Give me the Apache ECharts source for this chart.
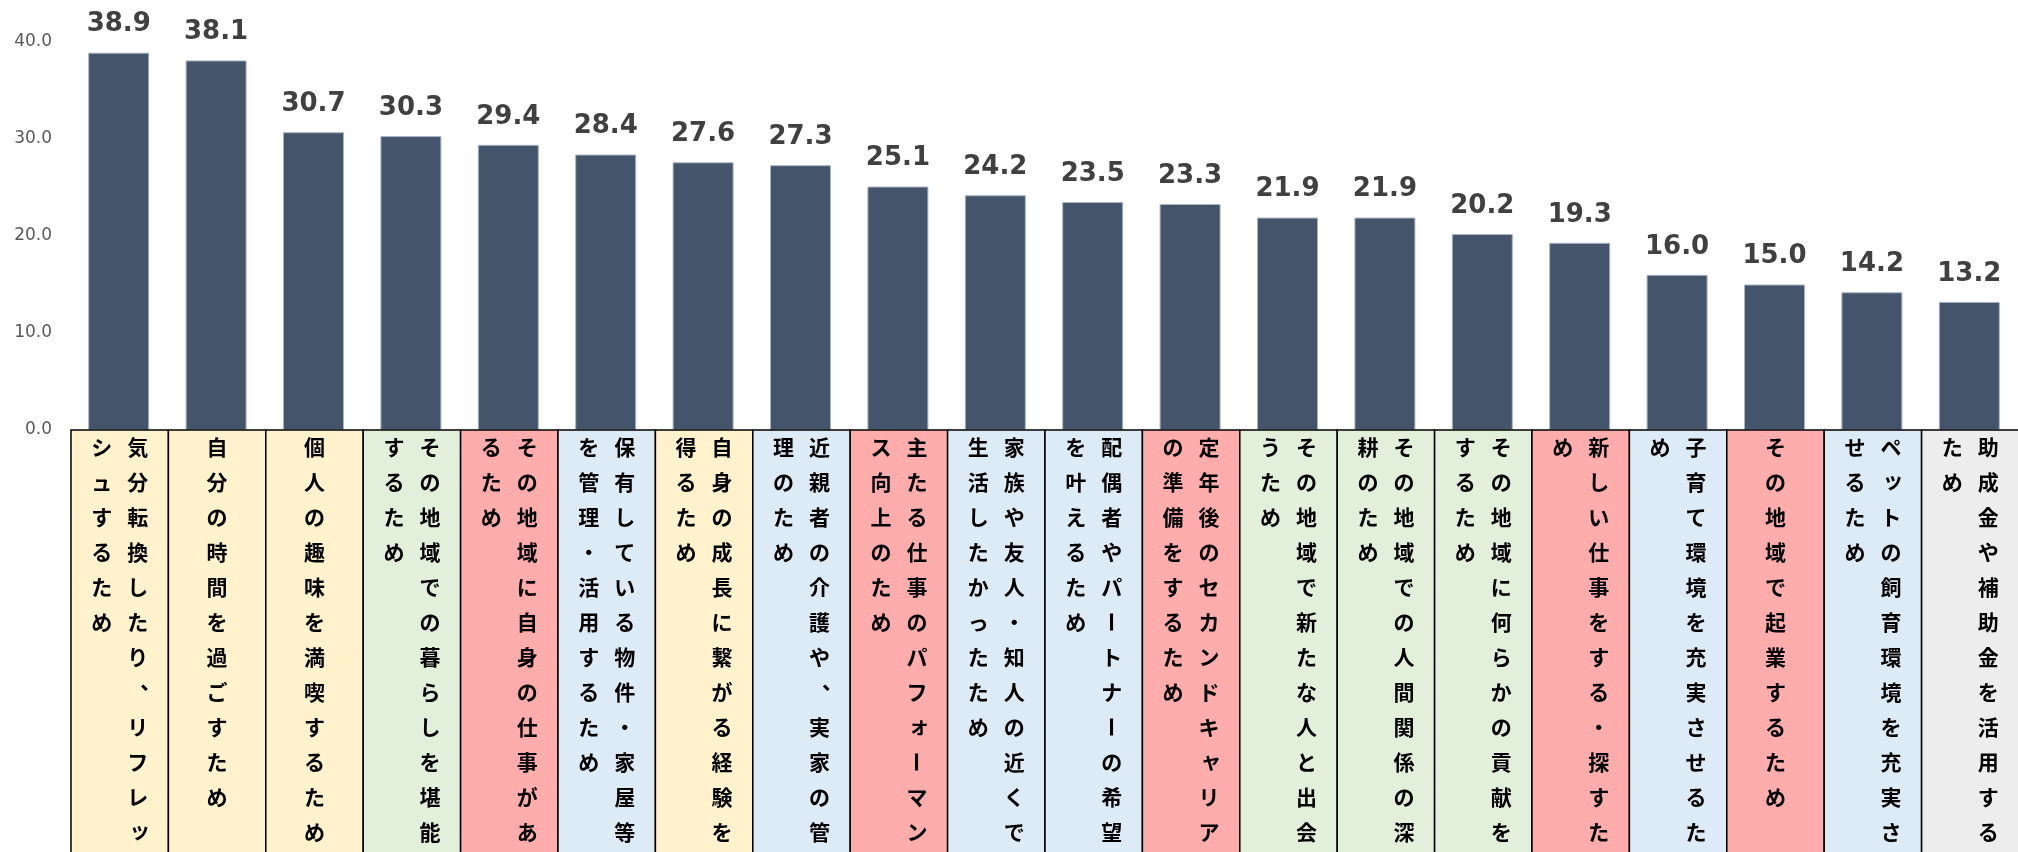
<!DOCTYPE html>
<html>
<head>
<meta charset="utf-8">
<script src="https://cdn.jsdelivr.net/npm/echarts@6/dist/echarts.min.js"></script>
<style>
html,body{margin:0;padding:0;background:#fff;}
#chart{width:2018px;height:852px;}
</style>
</head>
<body>
<div id="chart"></div>
<script>
const categories = [
  '気分転換したり、リフレッシュするため',
  '自分の時間を過ごすため',
  '個人の趣味を満喫するため',
  'その地域での暮らしを堪能するため',
  'その地域に自身の仕事があるため',
  '保有している物件・家屋等を管理・活用するため',
  '自身の成長に繋がる経験を得るため',
  '近親者の介護や、実家の管理のため',
  '主たる仕事のパフォーマンス向上のため',
  '家族や友人・知人の近くで生活したかったため',
  '配偶者やパートナーの希望を叶えるため',
  '定年後のセカンドキャリアの準備をするため',
  'その地域で新たな人と出会うため',
  'その地域での人間関係の深耕のため',
  'その地域に何らかの貢献をするため',
  '新しい仕事をする・探すため',
  '子育て環境を充実させるため',
  'その地域で起業するため',
  'ペットの飼育環境を充実させるため',
  '助成金や補助金を活用するため'
];
const values = [38.9, 38.1, 30.7, 30.3, 29.4, 28.4, 27.6, 27.3, 25.1, 24.2, 23.5, 23.3, 21.9, 21.9, 20.2, 19.3, 16.0, 15.0, 14.2, 13.2];
const groups = ['A','A','A','B','C','D','A','D','C','D','D','C','B','B','B','C','D','C','D','E'];
const yTicks = [0, 10, 20, 30, 40];

const groupColors = {A:'#FFF2CC', B:'#E2EFDA', C:'#FFACAC', D:'#DDEBF7', E:'#EDEDED'};
const CHARS_PER_COL = 12;
const COL_PITCH = 36;
const ROW_PITCH = 35;
const FONT = 'bold 21px "Noto Sans CJK JP"';

function splitCols(s){
  const arr = Array.from(s);
  const cols = [];
  for(let i=0;i<arr.length;i+=CHARS_PER_COL) cols.push(arr.slice(i,i+CHARS_PER_COL));
  return cols;
}

const chart = echarts.init(document.getElementById('chart'), null, {renderer:'canvas'});

function renderBox(params, api){
  const i = api.value(0);
  const p = api.coord([i, 0]);
  const w = api.size([1, 0])[0];
  const x0 = p[0] - w/2 + 1;
  const y0 = p[1];
  const children = [{
    type:'rect',
    shape:{x:x0, y:y0, width:w, height:500},
    style:{fill: groupColors[groups[i]], stroke:'#000', lineWidth:1.5}
  }];
  const cols = splitCols(categories[i]);
  const n = cols.length;
  const cx = x0 + w/2;
  cols.forEach((col, j) => {
    const colX = cx + ((n-1)/2 - j) * COL_PITCH;
    col.forEach((ch, r) => {
      let x = colX, y = y0 + 17 + r*ROW_PITCH, rot = 0;
      if (ch === 'ー') rot = -Math.PI/2;
      if (ch === '、') { x += 13; y -= 11; }
      if ('ッォャ'.indexOf(ch) >= 0) { x += 2; y -= 2; }
      children.push({
        type:'text', x:x, y:y, rotation:rot,
        style:{text:ch, font:FONT, fill:'#000', align:'center', verticalAlign:'middle'}
      });
    });
  });
  return {type:'group', children:children};
}

chart.setOption({
  animation:false,
  backgroundColor:'#fff',
  grid:{left:70, top:42, width:1960, height:388},
  xAxis:{
    type:'category',
    data:categories,
    axisLine:{show:false},
    axisTick:{show:false},
    axisLabel:{show:false}
  },
  yAxis:{
    type:'value',
    min:yTicks[0], max:yTicks[yTicks.length-1], interval:10,
    axisLine:{show:false},
    axisTick:{show:false},
    splitLine:{show:false},
    axisLabel:{
      margin:18,
      color:'#595959',
      fontSize:17,
      fontFamily:'"DejaVu Sans", Verdana, sans-serif',
      formatter:v => v.toFixed(1)
    }
  },
  series:[
    {
      type:'bar',
      data:values,
      barWidth:61,
      itemStyle:{color:'#44546A', borderColor:'#A9B4C2', borderWidth:1},
      label:{
        show:true, position:'top', distance:15,
        color:'#404040', fontSize:26, fontWeight:'bold',
        fontFamily:'"DejaVu Sans", Verdana, sans-serif',
        formatter:p => p.value.toFixed(1)
      }
    },
    {
      type:'custom',
      data:categories.map((c,i)=>[i,0]),
      encode:{x:0, y:1},
      clip:false,
      z:3,
      renderItem:renderBox
    }
  ]
});
</script>
</body>
</html>
